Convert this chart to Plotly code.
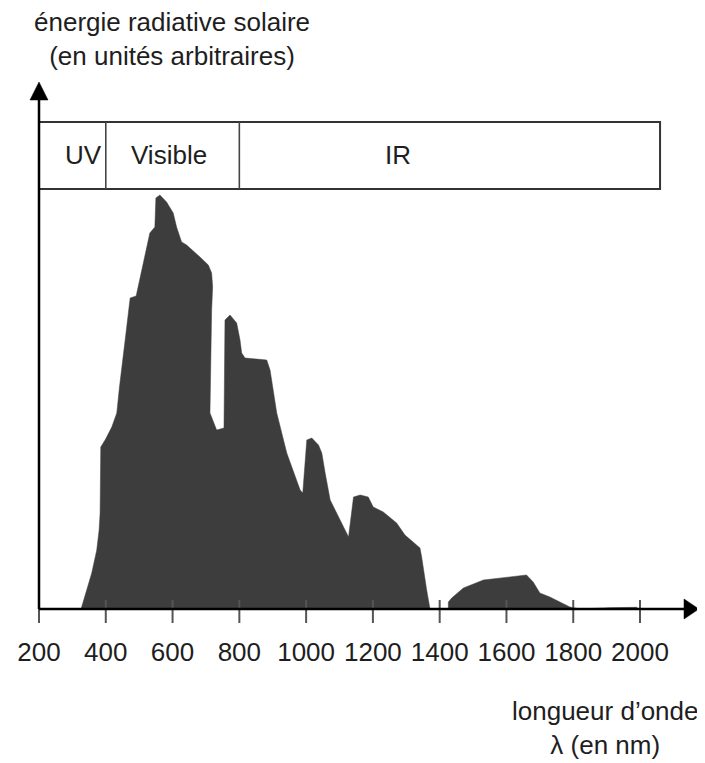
import plotly.graph_objects as go

# ---------------- data ----------------
# main lobe (UV -> ~1370 nm), outline of the filled spectrum
wl_main = [326, 343, 358, 373, 380, 383, 385, 398, 418, 433, 441, 458, 473, 491,
           512, 532, 547, 550, 562, 582, 602, 612, 627, 642, 682, 707, 717, 720,
           717, 712, 732, 754, 757, 772, 792, 802, 807, 817, 882, 892, 912, 942,
           982, 990, 1002, 1017, 1037, 1047, 1057, 1072, 1127, 1142, 1162, 1186,
           1201, 1231, 1271, 1296, 1341, 1346, 1361, 1371]
en_main = [0, 19, 36, 59, 79, 96, 162, 169, 182, 196, 222, 269, 311, 313,
           346, 376, 382, 411, 414, 407, 396, 382, 367, 364, 352, 344, 336, 322,
           299, 196, 179, 181, 289, 294, 286, 269, 256, 251, 249, 239, 196, 156,
           119, 116, 169, 171, 164, 156, 136, 109, 72, 112, 114, 112,
           102, 97, 86, 74, 61, 52, 19, 0]
# second lobe (after the 1400 nm absorption gap)
wl_ir = [1426, 1426, 1436, 1471, 1531, 1580, 1620, 1660, 1680, 1700, 1730, 1790,
         1820, 1910, 1990, 1995]
en_ir = [0, 7, 11, 21, 29, 31, 33, 34, 27, 16, 12, 2, 0, 1.3, 1.7, 0]

tick_vals = [200, 400, 600, 800, 1000, 1200, 1400, 1600, 1800, 2000]
tick_text = ["200", "400", "600", "800", "1000", "1200", "1400", "1600", "1800", "2000"]

band_labels = ["UV", "Visible", "IR"]
band_edges = [200, 400, 800, 2060]

# ---------------- geometry helpers ----------------
OFF = 8                      # page body margin
W, H = 705 - OFF, 763 - OFF  # figure fits the window
PL, PR, PT, PB = 10, 702, 70, 633   # plot area in window pixels
ML, MR, MT, MB = PL - OFF, W + OFF - PR, PT - OFF, H + OFF - PB
PW, PH = PR - PL, PB - PT
PX_PER_NM = 0.3339
X0_PX = 39  # window pixel of 200 nm
x_min = 200 - (X0_PX - PL) / PX_PER_NM
x_max = 200 + (PR - X0_PX) / PX_PER_NM
BASE_PX = 609
y_min, y_max = BASE_PX - PB, BASE_PX - PT  # 1 unit = 1 px
nm = lambda px: px / PX_PER_NM  # pixel length -> nm length
def paper(px, py):
    return (px - PL) / PW, (PB - py) / PH

FILL = "#3d3d3d"
TXT = "#1e1e1e"
FONT = "Liberation Sans, Arial, sans-serif"

fig = go.Figure()
fig.add_trace(go.Scatter(
    x=wl_main + [None] + wl_ir,
    y=en_main + [None] + en_ir,
    mode="lines", fill="toself", fillcolor=FILL,
    line=dict(width=0.5, color=FILL), hoverinfo="skip", showlegend=False,
))

shapes = []
# band box
shapes.append(dict(type="rect", xref="x", yref="y", x0=band_edges[0], x1=band_edges[-1],
                   y0=420, y1=487, line=dict(color="#333", width=2), fillcolor="rgba(0,0,0,0)"))
for e in band_edges[1:-1]:
    shapes.append(dict(type="line", xref="x", yref="y", x0=e, x1=e, y0=420, y1=487,
                       line=dict(color="#444", width=1.6)))
# ticks
for t in tick_vals:
    shapes.append(dict(type="line", xref="x", yref="y", x0=t, x1=t, y0=-14,
                       y1=(0 if t == 200 else 9), line=dict(color="#555", width=2)))
# axes
x_tip = 200 + nm(660)
x_base = 200 + nm(645)
shapes.append(dict(type="line", xref="x", yref="y", x0=200, x1=x_base + nm(2), y0=0, y1=0,
                   line=dict(color="black", width=2.5)))
shapes.append(dict(type="path", xref="x", yref="y",
                   path=f"M {x_tip},0 L {x_base},10 L {x_base},-10 Z",
                   fillcolor="black", line=dict(color="black", width=0.5)))
shapes.append(dict(type="line", xref="x", yref="y", x0=200, x1=200, y0=0, y1=511,
                   line=dict(color="black", width=2.5)))
shapes.append(dict(type="path", xref="x", yref="y",
                   path=f"M 200,527 L {200 - nm(9)},509 L {200 + nm(9)},509 Z",
                   fillcolor="black", line=dict(color="black", width=0.5)))

annotations = []
band_centers = [332, 589, 1275]
for lab, xc in zip(band_labels, band_centers):
    annotations.append(dict(x=xc, y=454, xref="x", yref="y", text=lab, showarrow=False,
                            xanchor="center", yanchor="middle",
                            font=dict(size=26, color=TXT, family=FONT)))
tx, ty = paper(172, 39)
annotations.append(dict(x=tx, y=ty, xref="paper", yref="paper", xanchor="center", yanchor="middle",
                        text="énergie radiative solaire<br>(en unités arbitraires)",
                        showarrow=False, font=dict(size=26, color=TXT, family=FONT)))
bx, by = paper(605, 728)
annotations.append(dict(x=bx, y=by, xref="paper", yref="paper", xanchor="center", yanchor="middle",
                        text="longueur d’onde<br>λ (en nm)",
                        showarrow=False, font=dict(size=26, color=TXT, family=FONT)))

fig.update_layout(
    width=W, height=H,
    margin=dict(l=ML, r=MR, t=MT, b=MB),
    paper_bgcolor="white", plot_bgcolor="white",
    shapes=shapes, annotations=annotations,
    xaxis=dict(range=[x_min, x_max], tickvals=tick_vals, ticktext=tick_text,
               showgrid=False, zeroline=False, showline=False, ticks="",
               tickfont=dict(size=26, color=TXT, family=FONT), ticklabelstandoff=1),
    yaxis=dict(range=[y_min, y_max], showgrid=False, zeroline=False, showline=False,
               showticklabels=False, ticks=""),
)

fig.write_html("out.html")
